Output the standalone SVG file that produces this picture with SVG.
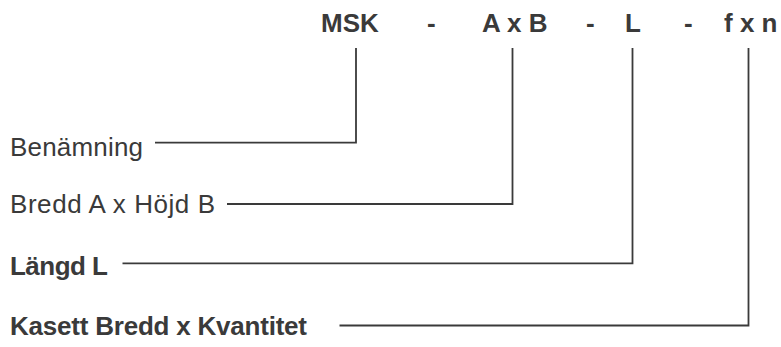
<svg xmlns="http://www.w3.org/2000/svg" width="781" height="347" viewBox="0 0 781 347">
<style>
.t{font-family:"Liberation Sans",Arial,sans-serif;fill:#3a3a3a;font-size:26px}
.b{font-weight:bold}
.c{fill:none;stroke:#3a3a3a;stroke-width:1.8}
</style>
<rect width="781" height="347" fill="#fff"/>
<g id="title">
<text class="t b" x="321" y="32">MSK</text>
<text class="t b" x="427" y="32">-</text>
<text class="t b" x="482" y="32">A x B</text>
<text class="t b" x="586" y="32">-</text>
<text class="t b" x="625" y="32">L</text>
<text class="t b" x="684" y="32">-</text>
<text class="t b" x="724" y="32">f x n</text>
</g>
<g id="benamning"><text class="t" x="10" y="156" textLength="133">Benämning</text></g>
<g id="bredd"><text class="t" x="10" y="213" textLength="205">Bredd A x Höjd B</text></g>
<g id="langd"><text class="t b" x="10" y="274.5" textLength="98">Längd L</text></g>
<g id="kasett"><text class="t b" x="10" y="335" textLength="297">Kasett Bredd x Kvantitet</text></g>
<g id="connectors">
<path class="c" d="M155 142.7H356V48"/>
<path class="c" d="M227 204H512.5V48"/>
<path class="c" d="M122.5 263.3H632.5V48"/>
<path class="c" d="M339.5 325.5H748.5V48"/>
</g>
</svg>
